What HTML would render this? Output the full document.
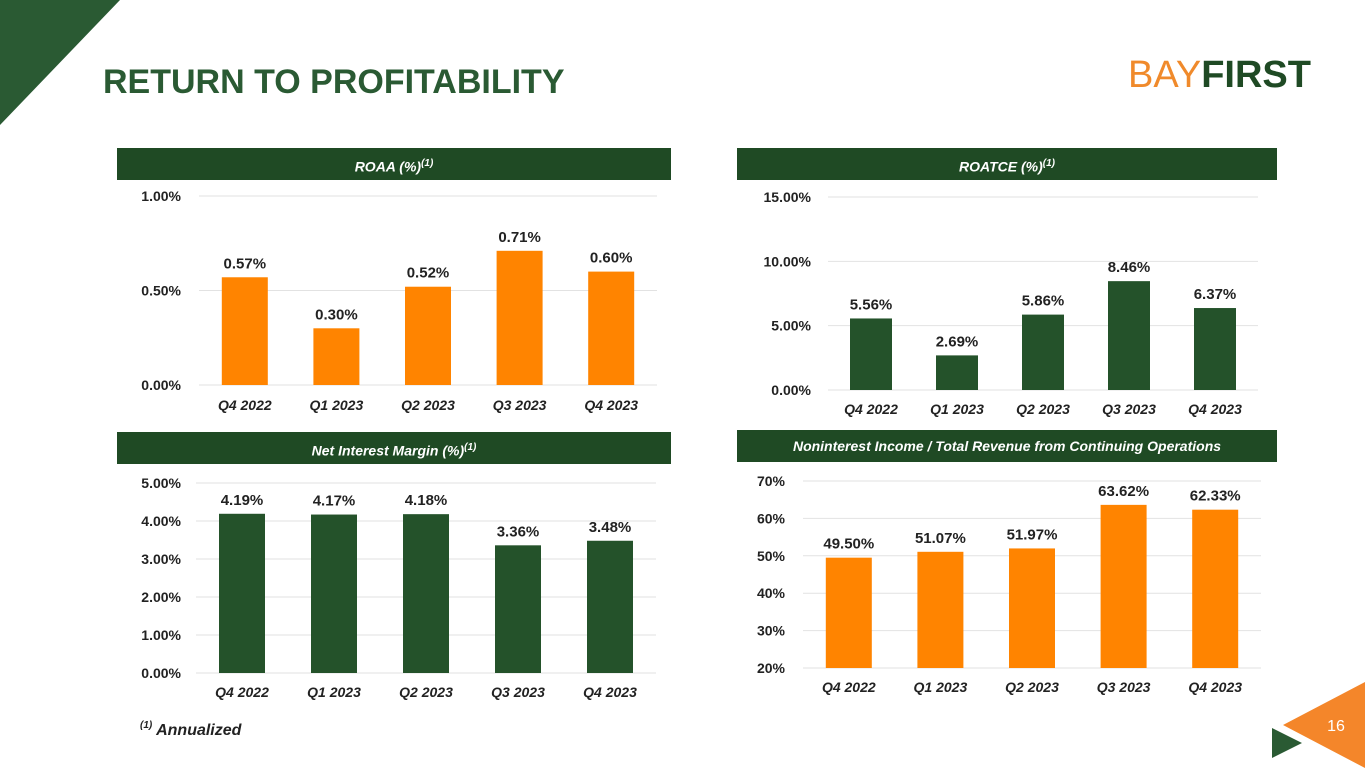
<!DOCTYPE html>
<html><head><meta charset="utf-8"><style>
body{margin:0;width:1365px;height:768px;overflow:hidden;background:#fff;font-family:"Liberation Sans",sans-serif;position:relative}
.hdr{position:absolute;background:#1f4a24;color:#fff;font-weight:bold;font-style:italic;font-size:14px;text-align:center;line-height:32px}
svg text{font-family:"Liberation Sans",sans-serif;font-weight:bold}
</style></head><body>
<svg width="1365" height="768" style="position:absolute;left:0;top:0">
<polygon points="0,0 120,0 0,125" fill="#2a5a33"/>
<polygon points="1283,725 1365,682 1365,768" fill="#f4862a"/>
<polygon points="1272,728 1272,758 1302,743" fill="#2a5a33"/>
<text x="1336" y="731" fill="#fff" font-size="16" style="font-weight:normal" text-anchor="middle">16</text>
<text x="103" y="93" fill="#2a5a33" font-size="34">RETURN TO PROFITABILITY</text>
<text x="1128" y="87" font-size="38" style="font-weight:normal" fill="#f08a2b">BAY<tspan fill="#1f4a24" style="font-weight:bold">FIRST</tspan></text>
<text x="140" y="735" font-size="16" font-style="italic" fill="#222"><tspan font-size="10" dy="-7">(1)</tspan><tspan dy="7"> Annualized</tspan></text>
<g id="charts"></g>
</svg>
<div class="hdr" style="left:117px;top:148px;width:554px;height:32px">ROAA (%)<sup style="font-size:10px">(1)</sup></div>
<div class="hdr" style="left:737px;top:148px;width:540px;height:32px">ROATCE (%)<sup style="font-size:10px">(1)</sup></div>
<div class="hdr" style="left:117px;top:432px;width:554px;height:32px">Net Interest Margin (%)<sup style="font-size:10px">(1)</sup></div>
<div class="hdr" style="left:737px;top:430px;width:540px;height:32px;font-size:14px">Noninterest Income / Total Revenue from Continuing Operations</div>
<script>
const categories=["Q4 2022","Q1 2023","Q2 2023","Q3 2023","Q4 2023"];
const roaaValues=[0.57,0.30,0.52,0.71,0.60];
const roaaTicks=[0,0.5,1.0];
const roatceValues=[5.56,2.69,5.86,8.46,6.37];
const roatceTicks=[0,5,10,15];
const nimValues=[4.19,4.17,4.18,3.36,3.48];
const nimTicks=[0,1,2,3,4,5];
const nonintValues=[49.50,51.07,51.97,63.62,62.33];
const nonintTicks=[20,30,40,50,60,70];
const NS="http://www.w3.org/2000/svg";
const g=document.getElementById('charts');
function mk(t,a){const e=document.createElementNS(NS,t);for(const k in a)e.setAttribute(k,a[k]);g.appendChild(e);return e;}
function chart(id,vals,ticks,fmtT,fmtV,color,x0,x1,yTop,yBot,bw,catY,lblX){
  const mn=ticks[0],mx=ticks[ticks.length-1];
  const y=v=>yBot-(v-mn)/(mx-mn)*(yBot-yTop);
  const step=(x1-x0)/vals.length;
  const xc=i=>x0+step*(i+0.5);
  ticks.forEach(t=>{
    const l=mk('line',{x1:x0,x2:x1,y1:y(t),y2:y(t),stroke:'#e2e2e2','stroke-width':1});
    
    
    const tx=mk('text',{x:lblX,y:y(t)+5,'font-size':14,'text-anchor':'end',fill:'#222'});
    tx.textContent=fmtT(t);
    
    
  });
  vals.forEach((v,i)=>{
    const r=mk('rect',{x:xc(i)-bw/2,y:y(v),width:bw,height:yBot-y(v),fill:color});
    
    
    const t=mk('text',{x:xc(i),y:y(v)-9,'font-size':15,'text-anchor':'middle',fill:'#222'});
    t.textContent=fmtV(v);
    
    
    const c=mk('text',{x:xc(i),y:catY,'font-size':14,'font-style':'italic','text-anchor':'middle',fill:'#222'});
    c.textContent=categories[i];
    
    
  });
}
const p2=v=>v.toFixed(2)+'%';
chart('roaa',roaaValues,roaaTicks,p2,p2,'#ff8400',199,657,196,385,46,410,181);
chart('roatce',roatceValues,roatceTicks,p2,p2,'#24522a',828,1258,197,390,42,414,811);
chart('nim',nimValues,nimTicks,p2,p2,'#24522a',196,656,483,673,46,697,181);
chart('nonint',nonintValues,nonintTicks,v=>v+'%',p2,'#ff8400',803,1261,481,668,46,692,785);
</script>
</body></html>
